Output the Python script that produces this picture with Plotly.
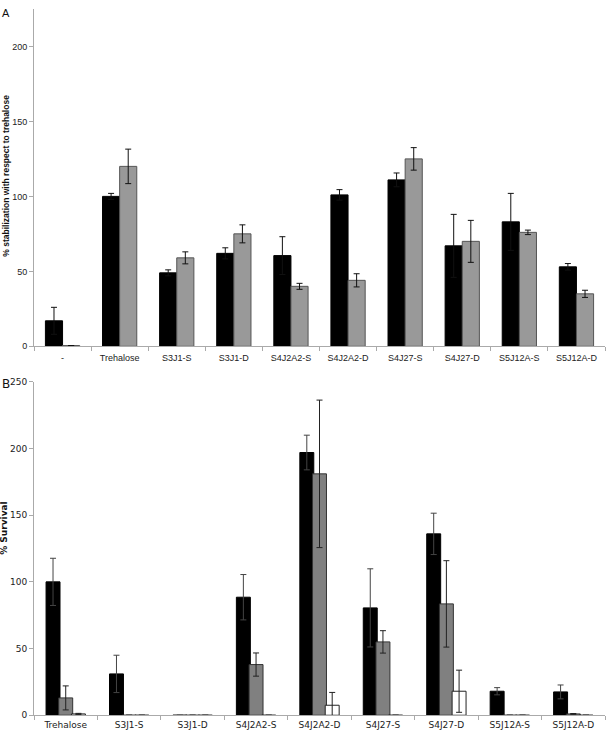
import plotly.graph_objects as go

# panel A: % stabilization with respect to trehalose
cats_a = ["-", "Trehalose", "S3J1-S", "S3J1-D", "S4J2A2-S", "S4J2A2-D",
          "S4J27-S", "S4J27-D", "S5J12A-S", "S5J12A-D"]
a_black = [17, 100, 49, 62, 60.5, 101, 111, 67, 83, 53]
a_black_err = [9, 2, 2, 3.7, 12.6, 3.5, 4.6, 21, 19, 2.2]
a_gray = [0.5, 120, 59, 75, 40, 44, 125, 70, 76, 35]
a_gray_err = [0, 11.5, 4, 6, 2, 4.4, 7.5, 14, 1.5, 2.4]

# panel B: % survival
cats_b = ["Trehalose", "S3J1-S", "S3J1-D", "S4J2A2-S", "S4J2A2-D",
          "S4J27-S", "S4J27-D", "S5J12A-S", "S5J12A-D"]
b_black = [100, 31, 0, 88.5, 197, 80.5, 136, 18, 17.5]
b_black_err = [17.7, 14, 0, 17, 13, 29.3, 15.5, 2.7, 5.2]
b_gray = [13, 0, 0, 38, 181, 55, 83.5, 0, 1]
b_gray_err = [9, 0, 0, 8.7, 55.3, 8.4, 32.4, 0, 0.3]
b_white = [1, 0, 0, 0, 7.5, 0, 18, 0, 0]
b_white_err = [0.4, 0, 0, 0, 9.6, 0, 15.8, 0, 0]

W, H = 608, 738
fa = "Liberation Sans, Arial, sans-serif"
fb = "DejaVu Sans, Verdana, sans-serif"


def ey(vals, col):
    return dict(type="data", array=vals, visible=True, color=col, thickness=1, width=3)


fig = go.Figure()
fig.add_trace(go.Bar(x=cats_a, y=a_black, error_y=ey(a_black_err, "#111"),
                     marker=dict(color="black", line=dict(color="black", width=1)),
                     xaxis="x", yaxis="y"))
fig.add_trace(go.Bar(x=cats_a, y=a_gray, error_y=ey(a_gray_err, "#111"),
                     marker=dict(color="#999999", line=dict(color="#555555", width=1)),
                     xaxis="x", yaxis="y"))

fig.add_trace(go.Bar(x=cats_b, y=b_black, error_y=ey(b_black_err, "#444"),
                     marker=dict(color="black", line=dict(color="black", width=1)),
                     xaxis="x2", yaxis="y2"))
fig.add_trace(go.Bar(x=cats_b, y=b_gray, error_y=ey(b_gray_err, "#222"),
                     marker=dict(color="#808080", line=dict(color="#333333", width=1)),
                     xaxis="x2", yaxis="y2"))
fig.add_trace(go.Bar(x=cats_b, y=b_white, error_y=ey(b_white_err, "#222"),
                     marker=dict(color="white", line=dict(color="#222222", width=1)),
                     xaxis="x2", yaxis="y2"))

xdom = [34 / W, 605 / W]
axline = dict(showline=True, linecolor="#aaaaaa", linewidth=1, showgrid=False,
              zeroline=False, ticks="outside", ticklen=4, tickcolor="#aaaaaa")

fig.update_layout(
    width=W, height=H, showlegend=False,
    margin=dict(l=0, r=0, t=0, b=0),
    paper_bgcolor="white", plot_bgcolor="white",
    barmode="group", bargap=0.4, bargroupgap=0,
    xaxis=dict(domain=xdom, anchor="y", type="category", tickson="boundaries",
               ticklabelstandoff=3,
               tickfont=dict(family=fa, size=9, color="#222"), **axline),
    yaxis=dict(domain=[1 - 346 / H, 1 - 4 / H], anchor="x", range=[0, 225],
               tickvals=[0, 50, 100, 150, 200],
               tickfont=dict(family=fa, size=9, color="#222"), **axline),
    xaxis2=dict(domain=xdom, anchor="y2", type="category", tickson="boundaries",
                ticklabelstandoff=1,
                tickfont=dict(family=fb, size=9, color="#222"), **axline),
    yaxis2=dict(domain=[1 - 720 / H, 1 - 382 / H], anchor="x2", range=[0, 250],
                tickvals=[0, 50, 100, 150, 200, 250],
                tickfont=dict(family=fb, size=9, color="#222"), **axline),
)

# three bars per group in panel B
fig.update_traces(selector=dict(xaxis="x2"), width=0.22)

fig.add_annotation(text="% stabilization with respect to trehalose", textangle=-90,
                   x=6 / W, y=1 - 173 / H, xref="paper", yref="paper", showarrow=False,
                   xanchor="center", yanchor="middle",
                   font=dict(family=fa, size=8.5, color="#111", weight="bold"))
fig.add_annotation(text="% Survival", textangle=-90,
                   x=4 / W, y=1 - 531 / H, xref="paper", yref="paper", showarrow=False,
                   xanchor="center", yanchor="middle",
                   font=dict(family=fb, size=9, color="#111", weight="bold"))
fig.add_annotation(text="A", x=0, y=1, xref="paper", yref="paper", showarrow=False,
                   xanchor="left", yanchor="top", font=dict(family=fa, size=11, color="#111"))
fig.add_annotation(text="B", x=0, y=1 - 375 / H, xref="paper", yref="paper", showarrow=False,
                   xanchor="left", yanchor="top", font=dict(family=fb, size=12, color="#111"))

fig.write_html("out.html", config={"displayModeBar": False},
               post_script="document.body.style.margin='0';")
